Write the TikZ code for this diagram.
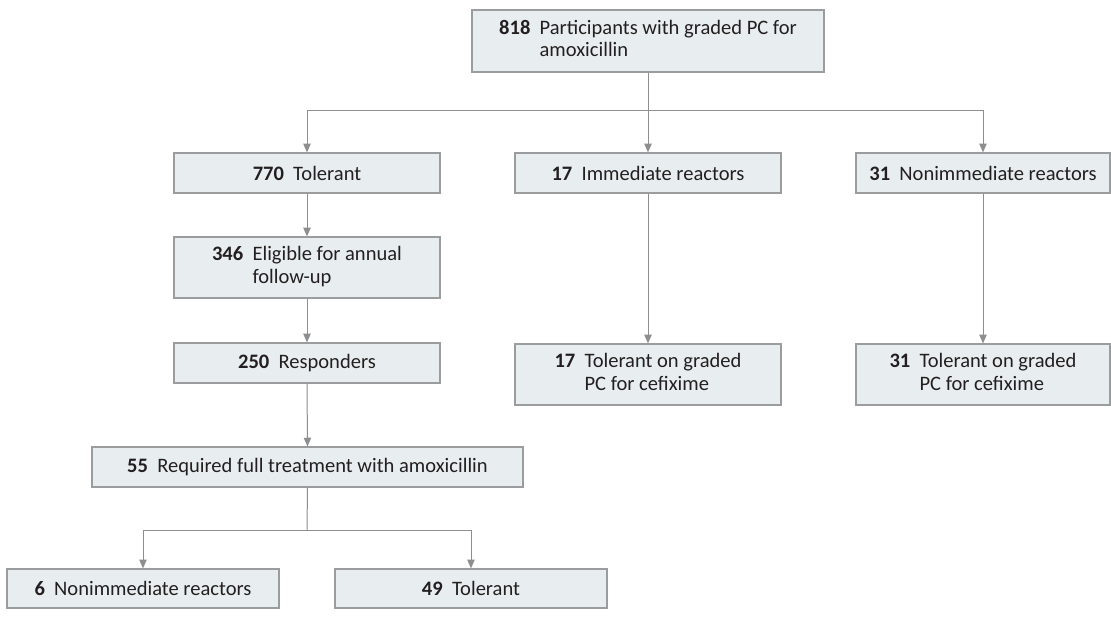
\documentclass[tikz,border=0pt]{standalone}
\usepackage{fontspec}
\setmainfont{Carlito}
\usetikzlibrary{arrows.meta}
\definecolor{boxfill}{HTML}{E8EEEF}
\definecolor{boxdraw}{HTML}{9A9C9E}
\definecolor{linecol}{HTML}{8C8E90}
\definecolor{txt}{HTML}{231F20}
\tikzset{
  box/.style={draw=boxdraw, fill=boxfill, line width=0.9pt, inner sep=0pt, text=txt, font=\fontsize{15.4}{17}\selectfont, align=center},
  conn/.style={draw=linecol, line width=0.75pt},
  arr/.style={conn, -{Triangle[width=5.5pt,length=6.5pt]}}
}
\newcommand{\two}[3]{\begin{tabular}{@{}l@{\hspace{0.45em}}l@{}}\textbf{#1} & #2\\ & #3\end{tabular}}
\newcommand{\one}[2]{\textbf{#1}\hspace{0.45em}#2}
\begin{document}
\begin{tikzpicture}[x=0.75pt,y=-0.75pt]
\useasboundingbox (0,0) rectangle (1111,633);
\node[box, minimum width=352*0.75pt, minimum height=62*0.75pt] (top) at (648,41) {\two{818}{Participants with graded PC for}{amoxicillin}};
\node[box, minimum width=266*0.75pt, minimum height=40*0.75pt] (tol) at (307,173) {\one{770}{Tolerant}};
\node[box, minimum width=266*0.75pt, minimum height=40*0.75pt] (imm) at (648,173) {\one{17}{Immediate reactors}};
\node[box, minimum width=254*0.75pt, minimum height=40*0.75pt] (non) at (983,173) {\one{31}{Nonimmediate reactors}};
\node[box, minimum width=266*0.75pt, minimum height=61*0.75pt] (elig) at (307,267.5) {\two{346}{Eligible for annual}{follow-up}};
\node[box, minimum width=266*0.75pt, minimum height=40*0.75pt] (resp) at (307,363) {\one{250}{Responders}};
\node[box, minimum width=266*0.75pt, minimum height=61*0.75pt] (cefa) at (648,374.5) {\two{17}{Tolerant on graded}{PC for cefixime}};
\node[box, minimum width=254*0.75pt, minimum height=61*0.75pt] (cefb) at (983,374.5) {\two{31}{Tolerant on graded}{PC for cefixime}};
\node[box, minimum width=431*0.75pt, minimum height=40*0.75pt] (req) at (307.5,467) {\one{55}{Required full treatment with amoxicillin}};
\node[box, minimum width=272*0.75pt, minimum height=39*0.75pt] (six) at (143,588.5) {\one{6}{Nonimmediate reactors}};
\node[box, minimum width=272*0.75pt, minimum height=39*0.75pt] (fn) at (471,588.5) {\one{49}{Tolerant}};
\coordinate (s1) at (648,110);
\coordinate (s2) at (307,530);
\draw[conn] (top.south) -- (s1);
\draw[arr] (s1) -| (tol.north);
\draw[arr] (s1) -| (non.north);
\draw[arr] (s1) -- (imm.north);
\draw[arr] (tol.south) -- (elig.north);
\draw[arr] (elig.south) -- (resp.north);
\draw[arr] (resp.south) -- (req.north);
\draw[arr] (imm.south) -- (cefa.north);
\draw[arr] (non.south) -- (cefb.north);
\draw[conn] (req.south) -- (s2);
\draw[arr] (s2) -| (six.north);
\draw[arr] (s2) -| (fn.north);
\end{tikzpicture}
\end{document}
